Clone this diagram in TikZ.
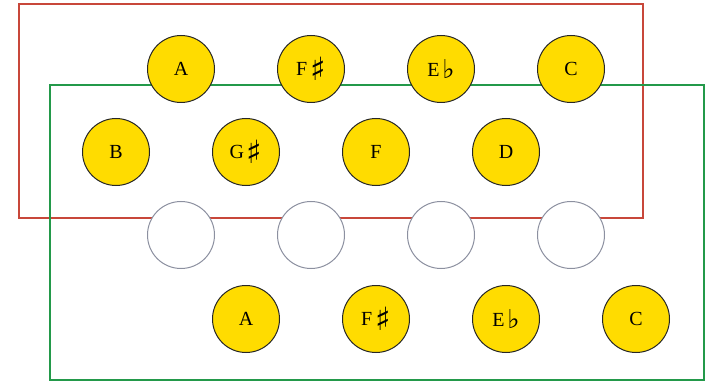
\documentclass[tikz,border=0pt]{standalone}
\usepackage{fontspec}
\setmainfont{Liberation Serif}
\newfontfamily\symfont{DejaVu Sans}
\begin{document}
\begin{tikzpicture}[x=1pt,y=-1pt,
  note/.style={circle,draw=black!85,line width=1pt,fill=gold,minimum size=67pt,inner sep=0pt,font=\fontsize{20}{24}\selectfont},
  blank/.style={circle,draw=graycirc,line width=1pt,fill=white,minimum size=67pt,inner sep=0pt},
  frame/.style={line width=2pt}]
\definecolor{gold}{HTML}{FFDC00}
\definecolor{redframe}{HTML}{C8473A}
\definecolor{greenframe}{HTML}{23994A}
\definecolor{graycirc}{HTML}{8C90A0}
\useasboundingbox (0,0) rectangle (714,382);
\draw[frame,draw=redframe] (19,4.5) rectangle (643,217.5);
\draw[frame,draw=greenframe] (50,85) rectangle (704,380);
\newcommand{\shp}{\hspace{3pt}\raisebox{-5pt}{\symfont\bfseries\fontsize{32}{34}\selectfont ♯}}
\newcommand{\flt}{\hspace{3pt}\raisebox{-2pt}{\symfont\bfseries\fontsize{26}{28}\selectfont ♭}}
\node[note] (a1) at (181,69) {A};
\node[note] (f1) at (311,69) {F\shp};
\node[note] (e1) at (441,69) {E\flt};
\node[note] (c1) at (571,69) {C};
\node[note] (b2) at (116,152) {B};
\node[note] (g2) at (246,152) {G\shp};
\node[note] (f2) at (376,152) {F};
\node[note] (d2) at (506,152) {D};
\node[blank] (x1) at (181,235) {};
\node[blank] (x2) at (311,235) {};
\node[blank] (x3) at (441,235) {};
\node[blank] (x4) at (571,235) {};
\node[note] (a4) at (246,319) {A};
\node[note] (f4) at (376,319) {F\shp};
\node[note] (e4) at (506,319) {E\flt};
\node[note] (c4) at (636,319) {C};
\end{tikzpicture}
\end{document}
